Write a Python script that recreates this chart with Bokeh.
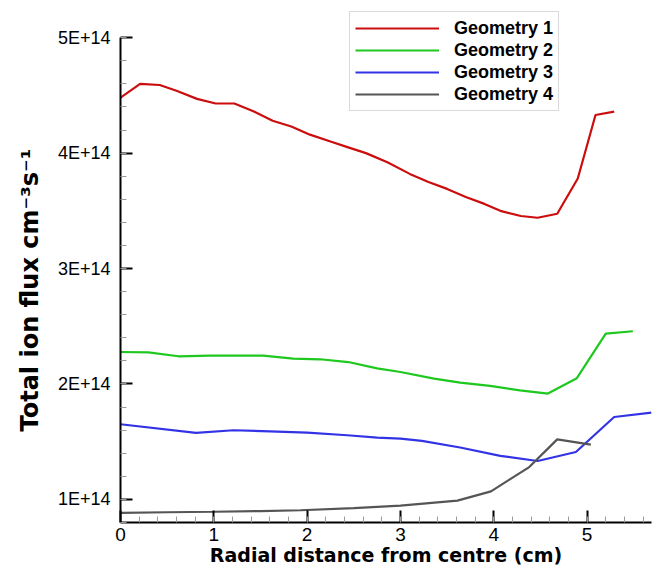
import numpy as np
from bokeh.embed import file_html
from bokeh.models import (CustomJSTickFormatter, FixedTicker, Legend, LegendItem,
                          Range1d, Title)
from bokeh.plotting import figure
from bokeh.resources import INLINE

# Radial distance from centre (cm) and total ion flux (in units of 1E+14 cm^-3 s^-1)
geom1_r = [0.0, 0.21, 0.42, 0.6, 0.82, 1.02, 1.22, 1.43, 1.63, 1.83, 2.03, 2.25, 2.44,
           2.63, 2.86, 3.1, 3.3, 3.5, 3.7, 3.9, 4.07, 4.29, 4.47, 4.68, 4.9, 5.09, 5.29]
geom1_flux = [4.48, 4.60, 4.59, 4.54, 4.47, 4.43, 4.43, 4.36, 4.28, 4.23, 4.16, 4.10, 4.05,
              4.00, 3.92, 3.82, 3.75, 3.69, 3.62, 3.56, 3.50, 3.455, 3.44, 3.475, 3.78, 4.33, 4.36]

geom2_r = [0.0, 0.3, 0.62, 0.96, 1.53, 1.85, 2.14, 2.44, 2.75, 3.0, 3.36, 3.64, 3.96,
           4.28, 4.58, 4.89, 5.2, 5.49]
geom2_flux = [2.277, 2.274, 2.24, 2.246, 2.246, 2.22, 2.214, 2.19, 2.135, 2.104, 2.047,
              2.012, 1.983, 1.945, 1.917, 2.05, 2.436, 2.457]

geom3_r = [0.0, 0.81, 1.21, 1.6, 2.0, 2.43, 2.75, 3.0, 3.23, 3.64, 4.07, 4.47, 4.88,
           5.29, 5.69]
geom3_flux = [1.651, 1.576, 1.599, 1.59, 1.579, 1.556, 1.536, 1.527, 1.507, 1.45, 1.377,
              1.333, 1.411, 1.714, 1.752]

geom4_r = [0.0, 0.5, 1.0, 1.5, 1.93, 2.5, 3.0, 3.61, 3.97, 4.38, 4.68, 5.04]
geom4_flux = [0.883, 0.889, 0.893, 0.899, 0.906, 0.925, 0.946, 0.99, 1.07, 1.28, 1.52, 1.475]

series_names = ["Geometry 1", "Geometry 2", "Geometry 3", "Geometry 4"]
series_colors = ["#cc0d0d", "#1ec81e", "#3333e6", "#555555"]

x_ticks = [0, 1, 2, 3, 4, 5]
y_ticks = [1, 2, 3, 4, 5]          # multiples of 1E+14
FLUX_UNIT = 1e14

FONT = "Liberation Sans"
TITLE_FONT = "DejaVu Sans"

# the y range runs a little past 5E+14 so the legend box fits inside the frame;
# the axis line itself stops at 5E+14 via its bounds
p = figure(width=659, height=568, output_backend="svg", toolbar_location=None,
           x_range=Range1d(0, 5.69),
           y_range=Range1d(0.8 * FLUX_UNIT, 5.2788 * FLUX_UNIT),
           min_border_left=120, min_border_right=8, min_border_top=5,
           min_border_bottom=46)
p.xgrid.visible = False
p.ygrid.visible = False
p.outline_line_color = None
p.background_fill_color = "white"
p.border_fill_color = "white"

all_r = [geom1_r, geom2_r, geom3_r, geom4_r]
all_flux = [geom1_flux, geom2_flux, geom3_flux, geom4_flux]
renderers = []
for r, f, c in zip(all_r, all_flux, series_colors):
    rr = p.line(r, [v * FLUX_UNIT for v in f], line_color=c, line_width=2.2)
    renderers.append(rr)

# axes: ticks point into the plot area
x_minor = np.round(np.arange(0, 5.69, 0.2), 2).tolist()
y_minor = [v * FLUX_UNIT for v in np.round(np.arange(0.8, 5.01, 0.2), 2)]
p.xaxis.ticker = FixedTicker(ticks=x_ticks, minor_ticks=x_minor)
p.yaxis.ticker = FixedTicker(ticks=[t * FLUX_UNIT for t in y_ticks], minor_ticks=y_minor)
p.yaxis.formatter = CustomJSTickFormatter(code="return (tick / 1e14).toFixed(0) + 'E+14';")
p.yaxis.bounds = (0.8 * FLUX_UNIT, 5.0 * FLUX_UNIT)

for ax in (p.xaxis[0], p.yaxis[0]):
    ax.axis_line_color = "black"
    ax.axis_line_width = 2
    ax.major_tick_in = 12
    ax.major_tick_out = 0
    ax.major_tick_line_width = 2
    ax.major_tick_line_color = "black"
    ax.minor_tick_in = 6
    ax.minor_tick_out = 0
    ax.minor_tick_line_color = "#9a9a9a"
    ax.minor_tick_line_width = 1
    ax.major_label_text_font = FONT
    ax.major_label_text_color = "black"

p.xaxis.major_label_text_font_size = "19px"
p.xaxis.major_label_standoff = 5
p.xaxis.axis_label = "Radial distance from centre (cm)"
p.xaxis.axis_label_text_font = TITLE_FONT
p.xaxis.axis_label_text_font_style = "bold"
p.xaxis.axis_label_text_font_size = "19px"
p.xaxis.axis_label_text_color = "black"
p.xaxis.axis_label_standoff = 0

p.yaxis.major_label_text_font_size = "18px"
p.yaxis.major_label_standoff = 10

# vertical title beside the flux axis, starting a little above the frame bottom
ytitle = Title(text="Total ion flux cm\u207b\u00b3s\u207b\u00b9", align="left", offset=91,
               standoff=21, text_font=TITLE_FONT, text_font_style="bold",
               text_font_size="24px", text_color="black")
p.add_layout(ytitle, "left")

legend = Legend(items=[LegendItem(label=n, renderers=[r]) for n, r in zip(series_names, renderers)],
                location=(229, 411), margin=0, padding=5, spacing=0,
                glyph_width=84, glyph_height=22, label_height=22, label_standoff=15,
                label_text_font=FONT, label_text_font_style="bold",
                label_text_font_size="18px", label_text_color="black",
                border_line_color="#b4b4b4", border_line_width=1,
                background_fill_color="white", background_fill_alpha=1.0)
p.add_layout(legend)

open("out.html", "w").write(file_html(p, INLINE))
